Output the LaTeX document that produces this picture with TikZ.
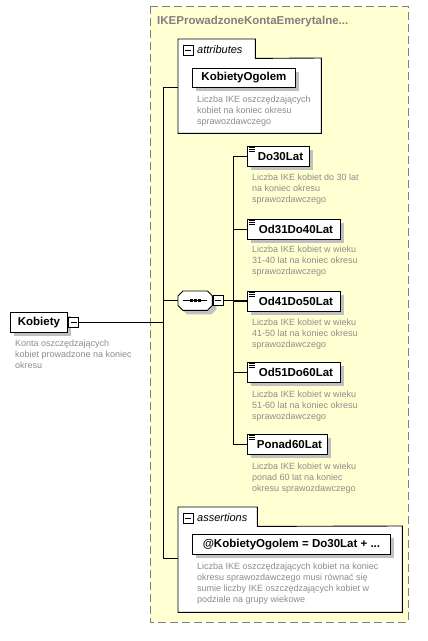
\documentclass[tikz,border=0pt]{standalone}
\usepackage{fontspec}
\setmainfont{Liberation Sans}
\usetikzlibrary{shadows,calc}
\definecolor{bg}{RGB}{255,255,210}
\definecolor{dashc}{RGB}{128,128,128}
\definecolor{desc}{RGB}{140,140,140}
\definecolor{shad}{RGB}{192,192,192}
\definecolor{titlec}{RGB}{128,128,128}
\tikzset{
 elbox/.style={draw=black, fill=white, line width=0.9pt, minimum height=20pt, inner sep=0pt, anchor=north west,
   font=\fontsize{11.5}{13}\selectfont\bfseries,
   drop shadow={shadow xshift=4pt, shadow yshift=-4pt, fill=shad, opacity=1}},
 ghost/.style={draw=none, inner sep=0pt, anchor=north west},
 grpline/.style={draw=black, fill=white, line width=0.9pt},
 desctext/.style={anchor=north west, inner sep=0pt, align=left, text=desc, font=\fontsize{9}{11}\selectfont},
 tablabel/.style={anchor=west, inner sep=0pt, font=\fontsize{11}{13}\selectfont\itshape},
 minusbox/.style={draw=black, fill=white, line width=0.8pt, minimum size=10pt, inner sep=0pt,
   path picture={\draw[line width=0.8pt] ([xshift=2pt]path picture bounding box.west) -- ([xshift=-2pt]path picture bounding box.east);}},
 conn/.style={line width=0.9pt},
 iconline/.style={line width=0.6pt},
}
\begin{document}
\begin{tikzpicture}[x=1pt,y=-1pt]
\useasboundingbox (0,0) rectangle (428,641);
% outer group
\draw[dashc, line width=0.9pt, dash pattern=on 8pt off 4pt, fill=bg] (150,6) rectangle (408,622);
\node[anchor=west, text=titlec, font=\fontsize{11.5}{13}\selectfont\bfseries, inner sep=0pt] (title) at (157,22) {IKEProwadzoneKontaEmerytalne...};

% attributes group
\node[ghost, minimum width=77pt, minimum height=19pt] (attrtab) at (178,39) {};
\node[ghost, minimum width=143pt, minimum height=75pt] (attr) at (178,58) {};
\draw[grpline] (attr.south west) -- (attrtab.north west) -- (attrtab.north east) -- (attrtab.south east) -- (attr.north east) -- (attr.south east) -- cycle;
\node[minusbox] (attrmin) at (188,50) {};
\node[tablabel] (attrlbl) at (197,50) {attributes};
\node[elbox, minimum width=103pt, minimum height=19pt] (kog) at (192,68) {KobietyOgolem};
\node[desctext] (kogd) at (197,96) {Liczba IKE oszczędzających\\kobiet na koniec okresu\\sprawozdawczego};

% assertions group
\node[ghost, minimum width=79pt, minimum height=19pt] (asrtab) at (178,507) {};
\node[ghost, minimum width=224pt, minimum height=86pt] (asr) at (178,526) {};
\draw[grpline] (asr.south west) -- (asrtab.north west) -- (asrtab.north east) -- (asrtab.south east) -- (asr.north east) -- (asr.south east) -- cycle;
\node[minusbox] (asrmin) at (188,518) {};
\node[tablabel] (asrlbl) at (197,518) {assertions};
\node[elbox, minimum width=198pt] (asrt) at (192,534) {@KobietyOgolem = Do30Lat + ...};
\node[desctext] (asrtd) at (197,563) {Liczba IKE oszczędzających kobiet na koniec\\okresu sprawozdawczego musi równać się\\sumie liczby IKE oszczędzających kobiet w\\podziale na grupy wiekowe};

% root element
\node[elbox, minimum width=57pt] (kob) at (10,312) {Kobiety};
\node[minusbox] (kobmin) at (73.5,322.5) {};
\node[desctext] (kobd) at (15,340) {Konta oszczędzających\\kobiet prowadzone na koniec\\okresu};

% sequence compositor
\node[ghost, minimum width=34pt, minimum height=19pt] (seq) at (178,291) {};
\fill[shad] ($(seq.north west)+(9,4)$) -- ($(seq.north east)+(-1,4)$) -- ($(seq.north east)+(4,9)$) -- ($(seq.south east)+(4,-1)$) -- ($(seq.south east)+(-1,4)$) -- ($(seq.south west)+(9,4)$) -- ($(seq.south west)+(4,-1)$) -- ($(seq.north west)+(4,9)$) -- cycle;
\draw[grpline] ($(seq.north west)+(5,0)$) -- ($(seq.north east)+(-5,0)$) -- ($(seq.north east)+(0,5)$) -- ($(seq.south east)+(0,-5)$) -- ($(seq.south east)+(-5,0)$) -- ($(seq.south west)+(5,0)$) -- ($(seq.south west)+(0,-5)$) -- ($(seq.north west)+(0,5)$) -- cycle;
\draw[conn] ($(seq.west)+(5,0)$) -- ($(seq.east)+(-5,0)$);
\foreach \dx in {-4,0,4} { \fill ($(seq.center)+(\dx-1.5,-1.5)$) rectangle ($(seq.center)+(\dx+1.5,1.5)$); }
\node[minusbox] (seqmin) at (218,300.5) {};

% children
\node[elbox, minimum width=62pt] (do30) at (247,146) {\hspace{4pt}Do30Lat};
\node[desctext] (do30d) at (252,174) {Liczba IKE kobiet do 30 lat\\na koniec okresu\\sprawozdawczego};
\node[elbox, minimum width=93pt] (od31) at (247,219) {\hspace{4pt}Od31Do40Lat};
\node[desctext] (od31d) at (252,246) {Liczba IKE kobiet w wieku\\31-40 lat na koniec okresu\\sprawozdawczego};
\node[elbox, minimum width=93pt] (od41) at (247,291) {\hspace{4pt}Od41Do50Lat};
\node[desctext] (od41d) at (252,319) {Liczba IKE kobiet w wieku\\41-50 lat na koniec okresu\\sprawozdawczego};
\node[elbox, minimum width=93pt] (od51) at (247,362) {\hspace{4pt}Od51Do60Lat};
\node[desctext] (od51d) at (252,391) {Liczba IKE kobiet w wieku\\51-60 lat na koniec okresu\\sprawozdawczego};
\node[elbox, minimum width=80pt] (pon) at (247,434) {\hspace{4pt}Ponad60Lat};
\node[desctext] (pond) at (252,463) {Liczba IKE kobiet w wieku\\ponad 60 lat na koniec\\okresu sprawozdawczego};
\foreach \n in {do30,od31,od41,od51,pon} {
  \foreach \dy in {1.5,3.5,5.5} {
    \draw[iconline] ($(\n.north west)+(2,\dy)$) -- ++(6,0);
  }
}

% connectors
\coordinate (bustop) at (163,87);
\coordinate (busbot) at (163,558);
\coordinate (cbus) at (233,0);
\draw[conn] (bustop) -- (busbot);
\draw[conn] (bustop) -- (bustop -| attr.west);
\draw[conn] (busbot) -- (busbot -| asr.west);
\draw[conn] (kobmin.east) -- (kobmin.east -| bustop);
\draw[conn] (seq.west -| bustop) -- (seq.west);
\draw[conn] (seqmin.east) -- (seqmin.east -| od41.west);
\draw[conn] (do30.west -| cbus) -- (pon.west -| cbus);
\foreach \n in {do30,od31,od41,od51,pon} {
  \draw[conn] (\n.west -| cbus) -- (\n.west);
}
\end{tikzpicture}
\end{document}
